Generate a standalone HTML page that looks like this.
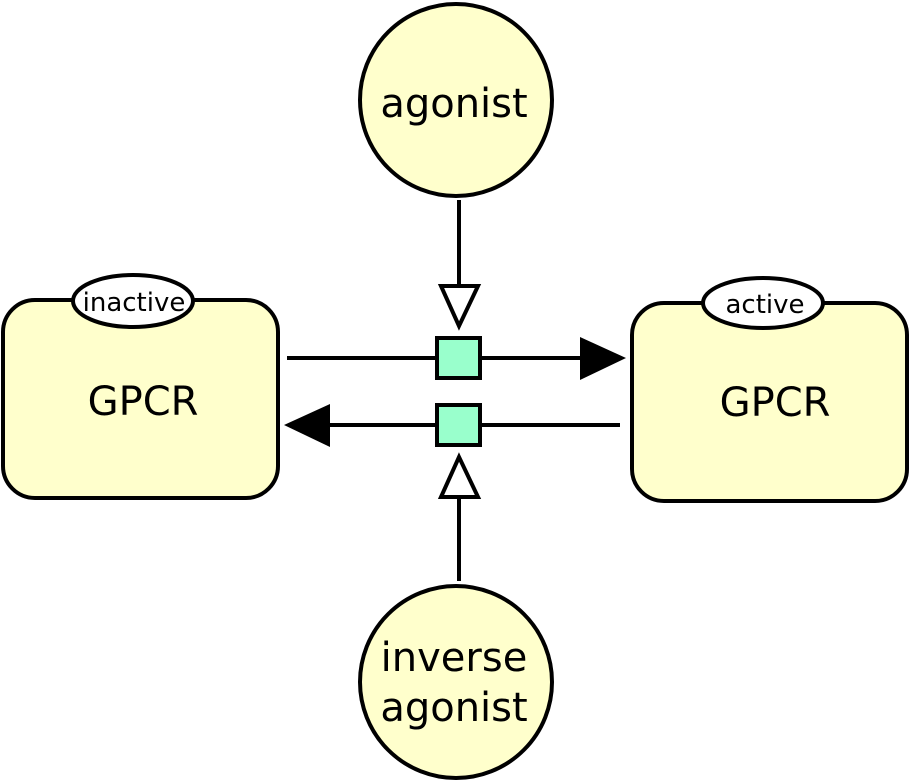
<!DOCTYPE html>
<html><head><style>html,body{margin:0;padding:0;background:#fff;}svg{display:block}</style></head>
<body>
<svg width="910" height="782" viewBox="0 0 910 782" xmlns="http://www.w3.org/2000/svg" font-family="'DejaVu Sans','Liberation Sans',sans-serif">
<rect x="3" y="300" width="275" height="198" rx="32" fill="#ffffcc" stroke="#000" stroke-width="4"/>
<rect x="632" y="303" width="275" height="198" rx="32" fill="#ffffcc" stroke="#000" stroke-width="4"/>
<ellipse cx="133" cy="301" rx="60" ry="26" fill="#fff" stroke="#000" stroke-width="4"/>
<ellipse cx="763" cy="303" rx="60" ry="25" fill="#fff" stroke="#000" stroke-width="4"/>
<text x="134" y="311" font-size="26" text-anchor="middle">inactive</text>
<text x="765" y="313" font-size="26" text-anchor="middle">active</text>
<text x="143" y="415" font-size="40" text-anchor="middle">GPCR</text>
<text x="775" y="416" font-size="40" text-anchor="middle">GPCR</text>
<circle cx="456" cy="100" r="96" fill="#ffffcc" stroke="#000" stroke-width="4"/>
<circle cx="456" cy="682" r="96" fill="#ffffcc" stroke="#000" stroke-width="4"/>
<text x="454" y="117" font-size="40" text-anchor="middle">agonist</text>
<text x="454" y="671" font-size="40" text-anchor="middle">inverse</text>
<text x="454" y="721" font-size="40" text-anchor="middle">agonist</text>
<line x1="459" y1="200" x2="459" y2="286" stroke="#000" stroke-width="4"/>
<polygon points="441,286 478,286 459,326" fill="#fff" stroke="#000" stroke-width="4"/>
<line x1="459" y1="581" x2="459" y2="497" stroke="#000" stroke-width="4"/>
<polygon points="441,497 478,497 459,457" fill="#fff" stroke="#000" stroke-width="4"/>
<line x1="287" y1="358" x2="582" y2="358" stroke="#000" stroke-width="4"/>
<polygon points="580,337 626,358 580,380" fill="#000"/>
<line x1="620" y1="425" x2="328" y2="425" stroke="#000" stroke-width="4"/>
<polygon points="330,404 284,425 330,447" fill="#000"/>
<rect x="437" y="338" width="43" height="40" fill="#99ffcc" stroke="#000" stroke-width="4"/>
<rect x="437" y="405" width="43" height="40" fill="#99ffcc" stroke="#000" stroke-width="4"/>
</svg>
</body></html>
